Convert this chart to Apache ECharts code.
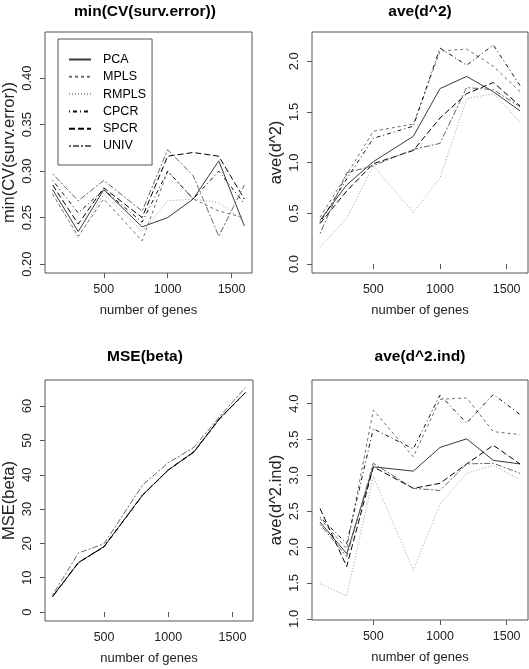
<!DOCTYPE html>
<html><head><meta charset="utf-8">
<script src="https://cdn.jsdelivr.net/npm/echarts@6/dist/echarts.min.js"></script>
<style>html,body{margin:0;padding:0;background:#fff}#c{width:529px;height:669px}</style>
</head><body><div id="c"></div>
<script>
// ---- data ----
const genes = [100, 300, 500, 800, 1000, 1200, 1400, 1600];
const methods = ['PCA', 'MPLS', 'RMPLS', 'CPCR', 'SPCR', 'UNIV'];
const xTicks = [500, 1000, 1500];

// panel 1: min(CV(surv.error))
const cvPCA   = [0.280, 0.235, 0.280, 0.240, 0.250, 0.270, 0.311, 0.241];
const cvMPLS  = [0.275, 0.230, 0.270, 0.225, 0.300, 0.270, 0.257, 0.250];
const cvRMPLS = [0.276, 0.228, 0.275, 0.235, 0.268, 0.270, 0.266, 0.246];
const cvCPCR  = [0.290, 0.255, 0.280, 0.245, 0.300, 0.270, 0.300, 0.265];
const cvSPCR  = [0.285, 0.243, 0.282, 0.250, 0.316, 0.320, 0.316, 0.270];
const cvUNIV  = [0.297, 0.268, 0.290, 0.257, 0.323, 0.295, 0.230, 0.285];
const cvTicks = [0.20, 0.25, 0.30, 0.35, 0.40];

// panel 2: ave(d^2)
const d2PCA   = [0.43, 0.78, 1.01, 1.26, 1.73, 1.85, 1.70, 1.51];
const d2MPLS  = [0.46, 0.88, 1.31, 1.38, 2.10, 2.12, 1.95, 1.70];
const d2RMPLS = [0.17, 0.45, 0.97, 0.51, 0.85, 1.63, 1.68, 1.40];
const d2CPCR  = [0.41, 0.84, 1.24, 1.36, 2.13, 1.96, 2.16, 1.76];
const d2SPCR  = [0.40, 0.72, 0.99, 1.12, 1.44, 1.68, 1.79, 1.56];
const d2UNIV  = [0.30, 0.90, 0.97, 1.13, 1.19, 1.74, 1.72, 1.55];
const d2Ticks = [0, 0.5, 1.0, 1.5, 2.0];

// panel 3: MSE(beta)
const msePCA   = [4.6, 14.4, 19.1, 34.1, 41.4, 46.7, 56.4, 63.9];
const mseMPLS  = [4.5, 14.3, 19.0, 34.0, 41.3, 46.6, 56.3, 63.8];
const mseRMPLS = [4.6, 14.5, 19.2, 34.2, 41.5, 46.8, 56.5, 64.0];
const mseCPCR  = [4.5, 14.4, 19.1, 34.1, 41.4, 46.7, 56.4, 63.9];
const mseSPCR  = [4.6, 14.4, 19.0, 34.0, 41.4, 46.6, 56.3, 63.9];
const mseUNIV  = [5.0, 17.2, 19.9, 37.0, 43.5, 48.0, 56.9, 65.4];
const mseTicks = [0, 10, 20, 30, 40, 50, 60];

// panel 4: ave(d^2.ind)
const indPCA   = [2.35, 1.91, 3.12, 3.06, 3.39, 3.51, 3.21, 3.16];
const indMPLS  = [2.40, 1.98, 3.91, 3.26, 4.06, 4.08, 3.61, 3.57];
const indRMPLS = [1.49, 1.32, 2.98, 1.68, 2.60, 3.03, 3.14, 2.94];
const indCPCR  = [2.42, 2.05, 3.65, 3.37, 4.12, 3.73, 4.13, 3.85];
const indSPCR  = [2.54, 1.73, 3.12, 2.82, 2.89, 3.16, 3.42, 3.16];
const indUNIV  = [2.32, 1.87, 3.17, 2.82, 2.79, 3.16, 3.17, 3.03];
const indTicks = [1.0, 1.5, 2.0, 2.5, 3.0, 3.5, 4.0];

const panelTitles = ['min(CV(surv.error))', 'ave(d^2)', 'MSE(beta)', 'ave(d^2.ind)'];
const xName = 'number of genes';

// ---- styles ----
const FONT = "'Liberation Sans',Arial,Helvetica,sans-serif";
const methodStyle = {
  PCA:   { color: '#3a3a3a', type: 'solid' },
  MPLS:  { color: '#6e6e6e', type: [3, 3] },
  RMPLS: { color: '#a0a0a0', type: [1, 2] },
  CPCR:  { color: '#111111', type: [1, 3, 4, 3] },
  SPCR:  { color: '#000000', type: [6, 3] },
  UNIV:  { color: '#666666', type: [2, 2, 6, 2] }
};

const panels = [
  { series: [cvPCA, cvMPLS, cvRMPLS, cvCPCR, cvSPCR, cvUNIV], ticks: cvTicks, ymin: 0.1904, ymax: 0.4496, dec: 2,
    grid: { left: 38, top: 32, width: 214, height: 241 }, cx: 145, ty: 4 },
  { series: [d2PCA, d2MPLS, d2RMPLS, d2CPCR, d2SPCR, d2UNIV], ticks: d2Ticks, ymin: -0.088, ymax: 2.288, dec: 1,
    grid: { left: 312, top: 32, width: 216, height: 241 }, cx: 420, ty: 4 },
  { series: [msePCA, mseMPLS, mseRMPLS, mseCPCR, mseSPCR, mseUNIV], ticks: mseTicks, ymin: -2.6, ymax: 67.6, dec: 0,
    grid: { left: 38, top: 380, width: 215, height: 241 }, cx: 145, ty: 349 },
  { series: [indPCA, indMPLS, indRMPLS, indCPCR, indSPCR, indUNIV], ticks: indTicks, ymin: 0.985, ymax: 4.33, dec: 1,
    grid: { left: 312, top: 380, width: 216, height: 240 }, cx: 420, ty: 349 }
];

const option = {
  animation: false,
  backgroundColor: '#ffffff',
  title: panels.map((p, i) => ({
    text: panelTitles[i], left: p.cx, top: p.ty, textAlign: 'center', padding: 0,
    textStyle: { fontFamily: FONT, fontWeight: 'bold', fontSize: 15.5, color: '#000' }
  })),
  legend: {
    left: 58, top: 39, orient: 'vertical', data: methods, selectedMode: false,
    itemWidth: 22, itemHeight: 12, itemGap: 2.3,
    padding: [13, 6, 11.5, 10],
    borderColor: '#555', borderWidth: 1,
    itemStyle: { color: 'rgba(0,0,0,0)', borderWidth: 0, opacity: 0 },
    textStyle: { fontFamily: FONT, fontSize: 12.5, lineHeight: 15, color: '#000', padding: [0, 0, 0, 7] }
  },
  grid: panels.map(p => Object.assign({ show: true, borderColor: '#555', borderWidth: 1, backgroundColor: 'transparent' }, p.grid)),
  xAxis: panels.map((p, i) => ({
    type: 'value', gridIndex: i, min: 40, max: 1660,
    axisLine: { show: false }, splitLine: { show: false },
    axisTick: { show: true, length: 5, inside: false, customValues: xTicks, lineStyle: { color: '#555' } },
    axisLabel: { customValues: xTicks, margin: 10, fontFamily: FONT, fontSize: 12.5, color: '#222',
      formatter: v => String(v) },
    name: xName, nameLocation: 'middle', nameGap: 31,
    nameTextStyle: { fontFamily: FONT, fontSize: 13, color: '#222', verticalAlign: 'top' }
  })),
  yAxis: panels.map((p, i) => ({
    type: 'value', gridIndex: i, min: p.ymin, max: p.ymax,
    axisLine: { show: false }, splitLine: { show: false },
    axisTick: { show: true, length: 5, inside: false, customValues: p.ticks, lineStyle: { color: '#555' } },
    axisLabel: { customValues: p.ticks, rotate: 90, margin: 11, fontFamily: FONT, fontSize: 13, color: '#222',
      formatter: v => Number(v).toFixed(p.dec) },
    name: panelTitles[i], nameLocation: 'middle', nameRotate: 90, nameGap: 27,
    nameTextStyle: { fontFamily: FONT, fontSize: 16.5, color: '#222' }
  })),
  series: []
};

panels.forEach((p, pi) => {
  methods.forEach((m, mi) => {
    const st = methodStyle[m];
    option.series.push({
      type: 'line', name: m, xAxisIndex: pi, yAxisIndex: pi,
      data: genes.map((g, k) => [g, p.series[mi][k]]),
      symbol: 'none', showSymbol: false, silent: true,
      lineStyle: { color: st.color, type: st.type, width: 1 },
      itemStyle: { color: st.color }
    });
  });
});

const chart = echarts.init(document.getElementById('c'), null, { renderer: 'canvas' });
chart.setOption(option);
</script>
</body></html>
